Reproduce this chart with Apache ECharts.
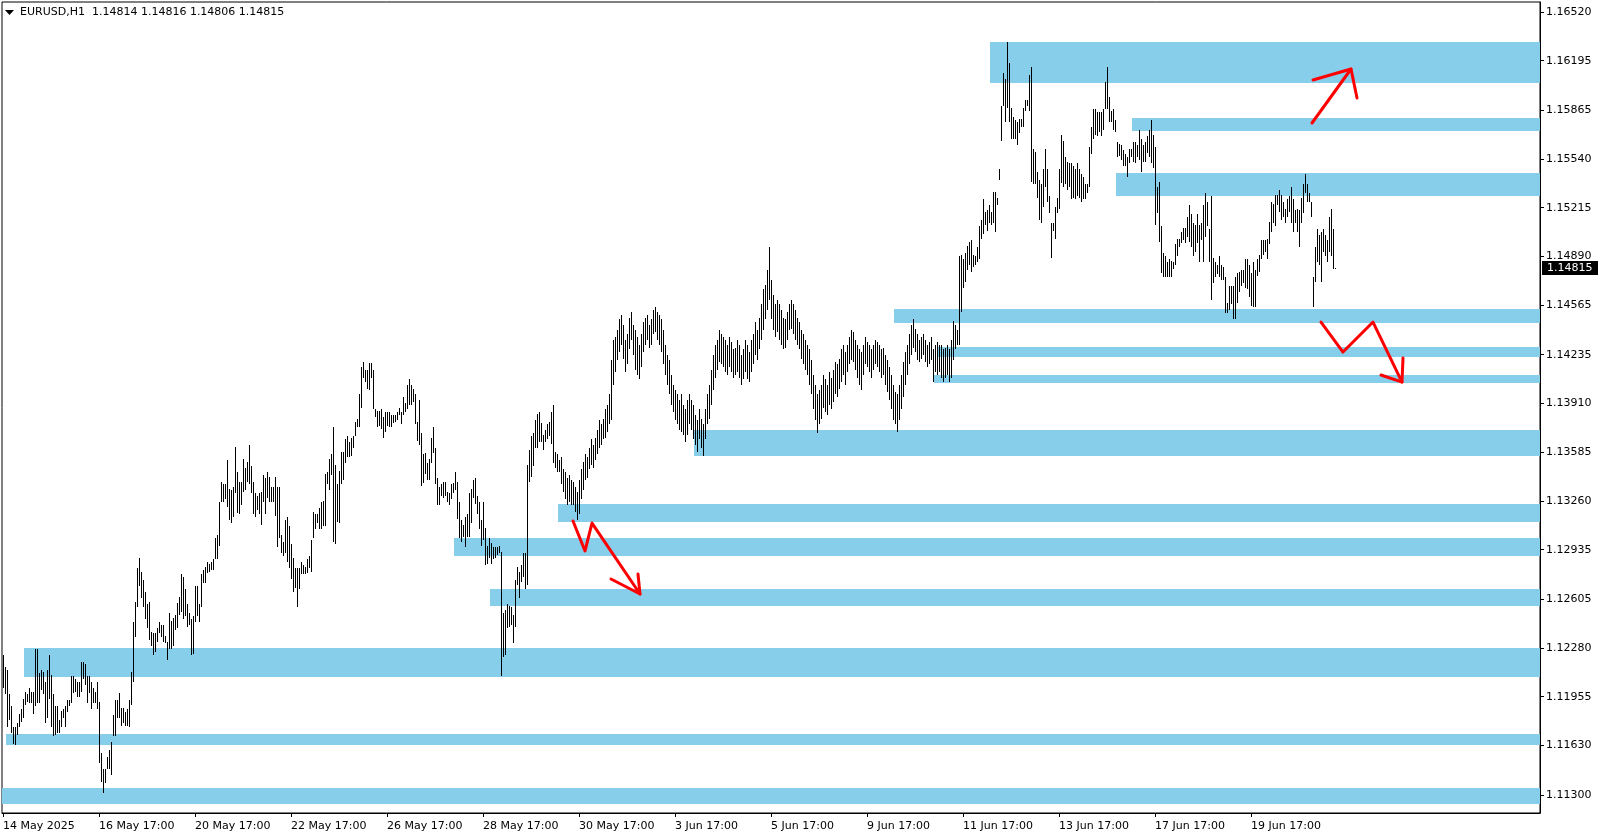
<!DOCTYPE html>
<html><head><meta charset="utf-8">
<script src="https://cdn.jsdelivr.net/npm/echarts@6/dist/echarts.min.js"></script>
<style>html,body{margin:0;padding:0;background:#fff}#c{width:1604px;height:838px}</style>
</head><body><div id="c"></div>
<script>
const symbolName = 'EURUSD,H1';
const headerOHLC = [1.14814, 1.14816, 1.14806, 1.14815];
const lastPrice = 1.14815;
const yTickValues = [1.11300,1.11630,1.11955,1.12280,1.12605,1.12935,1.13260,1.13585,1.13910,1.14235,1.14565,1.14890,1.15215,1.15540,1.15865,1.16195,1.16520];
const firstBarTime = [2025, 4, 14, 17];
const slotCount = 769;

const highs = [
1.1223,1.1215,1.1213,1.1197,1.1189,1.1175,1.1175,1.1178,1.1184,1.1187,
1.1194,1.1199,1.1197,1.1201,1.1199,1.1199,1.1227,1.1227,1.1211,1.1213,
1.1212,1.1205,1.1213,1.1223,1.1210,1.1197,1.1189,1.1189,1.1180,1.1186,
1.1187,1.1189,1.1193,1.1193,1.1209,1.1209,1.1207,1.1205,1.1205,1.1219,
1.1219,1.1217,1.1209,1.1209,1.1205,1.1201,1.1199,1.1205,1.1192,1.1158,
1.1147,1.1147,1.1155,1.1160,1.1165,1.1183,1.1193,1.1193,1.1198,1.1188,
1.1188,1.1185,1.1187,1.1193,1.1212,1.1245,1.1259,1.1281,1.1288,1.1279,
1.1273,1.1265,1.1257,1.1259,1.1239,1.1238,1.1238,1.1241,1.1245,1.1243,
1.1243,1.1236,1.1232,1.1251,1.1246,1.1248,1.1250,1.1258,1.1262,1.1277,
1.1275,1.1267,1.1257,1.1251,1.1247,1.1249,1.1269,1.1269,1.1257,1.1277,
1.1280,1.1282,1.1285,1.1284,1.1285,1.1287,1.1301,1.1303,1.1325,1.1339,
1.1337,1.1337,1.1353,1.1334,1.1333,1.1335,1.1362,1.1345,1.1339,1.1339,
1.1354,1.1348,1.1352,1.1363,1.1349,1.1339,1.1331,1.1329,1.1331,1.1332,
1.1343,1.1341,1.1345,1.1342,1.1335,1.1335,1.1342,1.1335,1.1335,1.1303,
1.1299,1.1313,1.1315,1.1309,1.1297,1.1288,1.1281,1.1281,1.1281,1.1285,
1.1283,1.1282,1.1287,1.1289,1.1300,1.1319,1.1317,1.1317,1.1321,1.1325,
1.1326,1.1344,1.1345,1.1354,1.1357,1.1375,1.1350,1.1337,1.1346,1.1359,
1.1359,1.1367,1.1369,1.1365,1.1368,1.1369,1.1379,1.1381,1.1397,1.1415,
1.1419,1.1413,1.1413,1.1418,1.1418,1.1413,1.1387,1.1386,1.1386,1.1387,
1.1382,1.1385,1.1385,1.1385,1.1383,1.1383,1.1383,1.1385,1.1388,1.1385,
1.1395,1.1391,1.1403,1.1407,1.1403,1.1401,1.1397,1.1379,1.1393,1.1371,
1.1357,1.1358,1.1351,1.1354,1.1368,1.1375,1.1361,1.1341,1.1335,1.1337,
1.1339,1.1339,1.1332,1.1331,1.1337,1.1338,1.1345,1.1339,1.1325,1.1313,
1.1310,1.1315,1.1317,1.1331,1.1334,1.1340,1.1341,1.1329,1.1325,1.1313,
1.1325,1.1308,1.1296,1.1301,1.1298,1.1295,1.1295,1.1295,1.1296,1.1292,
1.1251,1.1253,1.1257,1.1256,1.1255,1.1250,1.1273,1.1282,1.1279,1.1283,
1.1291,1.1291,1.1350,1.1360,1.1369,1.1371,1.1380,1.1384,1.1385,1.1378,
1.1370,1.1373,1.1377,1.1379,1.1385,1.1390,1.1359,1.1357,1.1353,1.1355,
1.1347,1.1345,1.1341,1.1343,1.1340,1.1339,1.1335,1.1332,1.1340,1.1347,
1.1352,1.1357,1.1355,1.1361,1.1367,1.1363,1.1368,1.1373,1.1380,1.1377,
1.1381,1.1387,1.1390,1.1397,1.1420,1.1433,1.1435,1.1440,1.1447,1.1450,
1.1443,1.1433,1.1437,1.1448,1.1452,1.1443,1.1440,1.1435,1.1430,1.1437,
1.1445,1.1448,1.1450,1.1443,1.1447,1.1453,1.1455,1.1452,1.1450,1.1447,
1.1440,1.1430,1.1423,1.1420,1.1410,1.1403,1.1400,1.1397,1.1393,1.1397,
1.1390,1.1387,1.1393,1.1397,1.1393,1.1390,1.1383,1.1380,1.1387,1.1381,
1.1377,1.1387,1.1397,1.1403,1.1413,1.1423,1.1430,1.1433,1.1440,1.1437,
1.1435,1.1433,1.1430,1.1435,1.1432,1.1427,1.1428,1.1433,1.1430,1.1423,
1.1427,1.1433,1.1430,1.1425,1.1433,1.1437,1.1445,1.1440,1.1448,1.1457,
1.1467,1.1470,1.1480,1.1495,1.1473,1.1463,1.1457,1.1460,1.1457,1.1453,
1.1448,1.1447,1.1452,1.1457,1.1460,1.1457,1.1453,1.1448,1.1445,1.1440,
1.1437,1.1433,1.1430,1.1427,1.1420,1.1410,1.1403,1.1397,1.1400,1.1403,
1.1410,1.1407,1.1403,1.1412,1.1408,1.1413,1.1419,1.1417,1.1421,1.1427,
1.1430,1.1425,1.1430,1.1435,1.1440,1.1439,1.1433,1.1430,1.1427,1.1425,
1.1430,1.1435,1.1432,1.1430,1.1427,1.1430,1.1433,1.1432,1.1430,1.1427,
1.1428,1.1423,1.1420,1.1415,1.1410,1.1403,1.1399,1.1397,1.1403,1.1410,
1.1419,1.1425,1.1430,1.1437,1.1443,1.1447,1.1441,1.1437,1.1433,1.1435,
1.1437,1.1433,1.1430,1.1432,1.1435,1.1427,1.1430,1.1432,1.1430,1.1430,
1.1427,1.1428,1.1430,1.1427,1.1433,1.1446,1.1443,1.1440,1.1489,1.1490,
1.1487,1.1491,1.1496,1.1499,1.1500,1.1490,1.1489,1.1495,1.1509,1.1513,
1.1527,1.1519,1.1520,1.1523,1.1519,1.1532,1.1532,1.1528,1.1547,1.1589,
1.1611,1.1607,1.1632,1.1618,1.1588,1.1582,1.1580,1.1579,1.1581,1.1581,
1.1588,1.1593,1.1593,1.1610,1.1615,1.1561,1.1559,1.1545,1.1540,1.1537,
1.1547,1.1561,1.1547,1.1529,1.1511,1.1511,1.1522,1.1528,1.1547,1.1570,
1.1566,1.1555,1.1552,1.1551,1.1551,1.1549,1.1547,1.1551,1.1547,1.1544,
1.1542,1.1537,1.1537,1.1562,1.1575,1.1587,1.1587,1.1585,1.1585,1.1585,
1.1587,1.1605,1.1615,1.1595,1.1586,1.1587,1.1580,1.1565,1.1564,1.1563,
1.1560,1.1557,1.1555,1.1561,1.1561,1.1565,1.1565,1.1563,1.1573,1.1567,
1.1563,1.1565,1.1569,1.1573,1.1580,1.1570,1.1562,1.1535,1.1539,1.1509,
1.1491,1.1489,1.1485,1.1487,1.1486,1.1485,1.1497,1.1501,1.1501,1.1505,
1.1508,1.1508,1.1515,1.1523,1.1517,1.1511,1.1510,1.1517,1.1510,1.1511,
1.1523,1.1531,1.1525,1.1507,1.1529,1.1488,1.1485,1.1483,1.1489,1.1483,
1.1482,1.1475,1.1458,1.1469,1.1469,1.1469,1.1475,1.1478,1.1479,1.1480,
1.1480,1.1487,1.1487,1.1483,1.1478,1.1485,1.1480,1.1487,1.1490,1.1500,
1.1500,1.1500,1.1501,1.1512,1.1525,1.1524,1.1530,1.1530,1.1533,1.1530,
1.1525,1.1521,1.1527,1.1529,1.1535,1.1527,1.1520,1.1521,1.1520,1.1528,
1.1537,1.1544,1.1537,1.1531,1.1525,1.1475,1.1495,1.1507,1.1503,1.1505,
1.1507,1.1503,1.1500,1.1515,1.1521,1.1507,1.14816
];

const lows = [
1.1201,1.1197,1.1175,1.1180,1.1171,1.1164,1.1163,1.1170,1.1175,1.1179,
1.1181,1.1190,1.1192,1.1191,1.1191,1.1184,1.1189,1.1191,1.1191,1.1200,
1.1197,1.1178,1.1181,1.1194,1.1175,1.1169,1.1170,1.1171,1.1171,1.1175,
1.1181,1.1175,1.1185,1.1189,1.1191,1.1198,1.1199,1.1195,1.1195,1.1199,
1.1207,1.1203,1.1191,1.1198,1.1187,1.1191,1.1191,1.1187,1.1151,1.1139,
1.1131,1.1138,1.1147,1.1147,1.1143,1.1169,1.1169,1.1181,1.1181,1.1176,
1.1178,1.1176,1.1176,1.1175,1.1190,1.1205,1.1235,1.1255,1.1269,1.1261,
1.1255,1.1247,1.1241,1.1233,1.1229,1.1223,1.1225,1.1232,1.1238,1.1235,
1.1232,1.1231,1.1220,1.1227,1.1227,1.1229,1.1240,1.1241,1.1250,1.1252,
1.1247,1.1249,1.1242,1.1243,1.1223,1.1224,1.1245,1.1249,1.1245,1.1255,
1.1271,1.1271,1.1278,1.1279,1.1280,1.1280,1.1287,1.1287,1.1296,1.1325,
1.1325,1.1327,1.1322,1.1313,1.1311,1.1315,1.1331,1.1318,1.1317,1.1323,
1.1332,1.1333,1.1339,1.1337,1.1331,1.1317,1.1315,1.1320,1.1317,1.1310,
1.1325,1.1317,1.1328,1.1325,1.1325,1.1325,1.1316,1.1295,1.1301,1.1291,
1.1289,1.1291,1.1285,1.1281,1.1274,1.1265,1.1268,1.1255,1.1267,1.1277,
1.1277,1.1277,1.1278,1.1281,1.1279,1.1301,1.1307,1.1311,1.1307,1.1307,
1.1309,1.1309,1.1337,1.1333,1.1343,1.1299,1.1297,1.1312,1.1311,1.1337,
1.1340,1.1351,1.1355,1.1355,1.1356,1.1361,1.1369,1.1375,1.1375,1.1388,
1.1408,1.1405,1.1401,1.1400,1.1408,1.1387,1.1382,1.1375,1.1376,1.1374,
1.1368,1.1372,1.1376,1.1375,1.1375,1.1378,1.1379,1.1380,1.1383,1.1377,
1.1383,1.1385,1.1387,1.1390,1.1390,1.1392,1.1377,1.1366,1.1363,1.1336,
1.1338,1.1344,1.1340,1.1340,1.1351,1.1358,1.1337,1.1323,1.1323,1.1329,
1.1328,1.1329,1.1325,1.1323,1.1327,1.1331,1.1333,1.1314,1.1301,1.1299,
1.1302,1.1295,1.1302,1.1302,1.1311,1.1328,1.1324,1.1317,1.1307,1.1296,
1.1300,1.1283,1.1284,1.1288,1.1284,1.1287,1.1288,1.1290,1.1291,1.1209,
1.1222,1.1223,1.1241,1.1242,1.1243,1.1231,1.1242,1.1270,1.1261,1.1272,
1.1275,1.1267,1.1270,1.1339,1.1342,1.1349,1.1361,1.1361,1.1365,1.1365,
1.1360,1.1365,1.1367,1.1369,1.1364,1.1351,1.1348,1.1345,1.1345,1.1337,
1.1332,1.1327,1.1323,1.1325,1.1323,1.1323,1.1319,1.1313,1.1317,1.1327,
1.1333,1.1340,1.1341,1.1347,1.1350,1.1348,1.1353,1.1357,1.1361,1.1363,
1.1367,1.1368,1.1372,1.1377,1.1380,1.1403,1.1412,1.1420,1.1425,1.1430,
1.1421,1.1412,1.1417,1.1427,1.1433,1.1423,1.1413,1.1410,1.1407,1.1415,
1.1425,1.1430,1.1433,1.1428,1.1430,1.1437,1.1439,1.1433,1.1430,1.1425,
1.1417,1.1410,1.1403,1.1397,1.1390,1.1385,1.1380,1.1377,1.1373,1.1372,
1.1370,1.1365,1.1370,1.1377,1.1373,1.1367,1.1363,1.1359,1.1367,1.1361,
1.1356,1.1367,1.1377,1.1381,1.1390,1.1400,1.1408,1.1413,1.1419,1.1417,
1.1415,1.1412,1.1410,1.1415,1.1412,1.1408,1.1410,1.1412,1.1408,1.1403,
1.1407,1.1412,1.1407,1.1405,1.1412,1.1417,1.1423,1.1420,1.1427,1.1433,
1.1440,1.1447,1.1453,1.1460,1.1447,1.1440,1.1435,1.1439,1.1433,1.1430,
1.1427,1.1428,1.1433,1.1440,1.1441,1.1437,1.1433,1.1430,1.1427,1.1421,
1.1417,1.1413,1.1410,1.1403,1.1397,1.1387,1.1380,1.1371,1.1377,1.1381,
1.1388,1.1385,1.1383,1.1390,1.1387,1.1392,1.1397,1.1395,1.1401,1.1405,
1.1410,1.1403,1.1412,1.1417,1.1420,1.1419,1.1413,1.1408,1.1403,1.1400,
1.1410,1.1417,1.1415,1.1412,1.1408,1.1413,1.1417,1.1415,1.1412,1.1408,
1.1410,1.1403,1.1399,1.1393,1.1387,1.1380,1.1377,1.1372,1.1380,1.1387,
1.1395,1.1403,1.1410,1.1417,1.1423,1.1428,1.1425,1.1420,1.1419,1.1421,
1.1423,1.1419,1.1415,1.1417,1.1420,1.1405,1.1412,1.1410,1.1412,1.1408,
1.1405,1.1408,1.1410,1.1405,1.1408,1.1420,1.1427,1.1430,1.1430,1.1452,
1.1468,1.1472,1.1480,1.1483,1.1479,1.1482,1.1483,1.1485,1.1487,1.1501,
1.1504,1.1510,1.1506,1.1511,1.1510,1.1511,1.1505,1.1523,1.1540,1.1566,
1.1589,1.1579,1.1588,1.1579,1.1567,1.1567,1.1567,1.1563,1.1571,1.1575,
1.1575,1.1586,1.1589,1.1586,1.1539,1.1537,1.1537,1.1528,1.1513,1.1511,
1.1522,1.1535,1.1525,1.1518,1.1488,1.1506,1.1501,1.1518,1.1521,1.1538,
1.1535,1.1537,1.1533,1.1535,1.1527,1.1528,1.1527,1.1529,1.1528,1.1525,
1.1527,1.1527,1.1531,1.1535,1.1557,1.1567,1.1570,1.1569,1.1572,1.1569,
1.1573,1.1587,1.1587,1.1579,1.1579,1.1573,1.1572,1.1555,1.1556,1.1553,
1.1549,1.1549,1.1542,1.1551,1.1555,1.1552,1.1551,1.1555,1.1553,1.1545,
1.1552,1.1552,1.1558,1.1555,1.1551,1.1548,1.1510,1.1518,1.1499,1.1478,
1.1475,1.1475,1.1475,1.1475,1.1475,1.1481,1.1483,1.1489,1.1495,1.1498,
1.1500,1.1498,1.1502,1.1499,1.1495,1.1489,1.1492,1.1498,1.1485,1.1500,
1.1485,1.1502,1.1509,1.1485,1.1460,1.1471,1.1475,1.1477,1.1475,1.1473,
1.1473,1.1451,1.1451,1.1453,1.1457,1.1447,1.1447,1.1458,1.1465,1.1469,
1.1471,1.1468,1.1467,1.1462,1.1456,1.1455,1.1455,1.1476,1.1479,1.1487,
1.1490,1.1492,1.1487,1.1497,1.1505,1.1511,1.1509,1.1523,1.1519,1.1513,
1.1515,1.1511,1.1515,1.1519,1.1511,1.1505,1.1511,1.1505,1.1495,1.1511,
1.1518,1.1531,1.1525,1.1525,1.1515,1.1455,1.1472,1.1485,1.1483,1.1472,
1.1492,1.1489,1.1485,1.1492,1.1489,1.1481,1.14806
];

// zones: [first bar index, lower price, upper price]
const zoneStarts = [494, 565, 557, 446, 468, 466, 346, 278, 226, 244, 11, 2, 0];
const zoneLows   = [1.16049,1.15729,1.15295,1.14447,1.14220,1.14047,1.13560,1.13120,1.12893,1.12560,1.12087,1.11633,1.11240];
const zoneHighs  = [1.16320,1.15813,1.15447,1.14540,1.14287,1.14100,1.13733,1.13240,1.13013,1.12673,1.12280,1.11707,1.11347];

// hand-drawn arrows: polylines in (bar index, price)
const arrowLines = [
  [[654.5,1.1578],[674,1.1614]],
  [[655,1.16067],[674,1.1614],[677,1.15947]],
  [[285,1.13127],[291,1.12927],[294.5,1.13113],[318.5,1.12640]],
  [[304,1.12740],[318.5,1.12640],[317.5,1.12773]],
  [[659,1.14453],[670,1.14253],[685,1.14453],[699.5,1.14053]],
  [[689,1.14100],[699.5,1.14053],[700,1.14213]]
];

const MONTHS = ['Jan','Feb','Mar','Apr','May','Jun','Jul','Aug','Sep','Oct','Nov','Dec'];
const categories = [];
(function(){
  let t = Date.UTC(firstBarTime[0], firstBarTime[1], firstBarTime[2], firstBarTime[3]);
  while (categories.length < slotCount) {
    const d = new Date(t);
    const wd = d.getUTCDay();
    if (wd !== 0 && wd !== 6) {
      const hh = String(d.getUTCHours()).padStart(2,'0');
      categories.push(d.getUTCDate() + ' ' + MONTHS[d.getUTCMonth()] + ' ' + hh + ':00|' + d.getUTCFullYear());
    }
    t += 3600000;
  }
})();

const nBars = Math.min(highs.length, lows.length);
const barData = [];
for (let i = 0; i < nBars; i++) barData.push([i, lows[i], highs[i]]);
const zoneData = zoneStarts.map((s, k) => [s, zoneLows[k], zoneHighs[k]]);

const FONT = 'DejaVu Sans';
const GRID = {left: 2, right: 64, top: 2, bottom: 25};
const yMin = 1.11180, yMax = 1.11180 + 811 / 15000;

const showLabel = (idx) => idx % 48 === 0 && idx < nBars;

const chart = echarts.init(document.getElementById('c'), null, {renderer: 'canvas'});
chart.setOption({
  animation: false,
  backgroundColor: '#ffffff',
  grid: Object.assign({show: true, borderColor: '#000', borderWidth: 1, backgroundColor: 'transparent'}, GRID),
  xAxis: {
    type: 'category', data: categories, boundaryGap: true,
    axisLine: {show: true, lineStyle: {color: '#000', width: 1}},
    axisTick: {show: true, alignWithLabel: true, interval: (i) => showLabel(i), length: 4, lineStyle: {color: '#000'}},
    axisLabel: {
      interval: (i) => showLabel(i), align: 'left', margin: 8,
      fontFamily: FONT, fontSize: 11, color: '#000',
      formatter: (v, i) => { const parts = v.split('|'); if (i === 0) { const p = parts[0].split(' '); return p[0] + ' ' + p[1] + ' ' + parts[1]; } return parts[0]; }
    },
    splitLine: {show: false}
  },
  yAxis: {
    type: 'value', position: 'right', min: yMin, max: yMax, scale: true,
    axisLine: {show: true, lineStyle: {color: '#000', width: 1}},
    axisTick: {show: true, customValues: yTickValues, length: 4, lineStyle: {color: '#000'}},
    axisLabel: {customValues: yTickValues, margin: 6, fontFamily: FONT, fontSize: 11, color: '#000', formatter: (v) => v.toFixed(5)},
    splitLine: {show: false}
  },
  series: [
    {
      type: 'custom', name: 'zones', z: 1, silent: true,
      encode: {x: 0, y: [1, 2]},
      data: zoneData,
      renderItem: function (params, api) {
        const s = api.value(0);
        const band = api.size([1, 0])[0];
        const a = api.coord([s, api.value(2)]);
        const b = api.coord([s, api.value(1)]);
        const cs = params.coordSys;
        const x0 = Math.max(cs.x, Math.round(a[0] - band / 2));
        const x1 = cs.x + cs.width;
        const y0 = Math.round(a[1]), y1 = Math.round(b[1]);
        return {type: 'rect', shape: {x: x0, y: y0, width: x1 - x0, height: y1 - y0}, style: {fill: '#87CEEB'}};
      }
    },
    {
      type: 'custom', name: 'EURUSD', z: 2, silent: true,
      encode: {x: 0, y: [1, 2]},
      data: barData,
      renderItem: function (params, api) {
        const i = api.value(0);
        const lo = api.coord([i, api.value(1)]);
        const hi = api.coord([i, api.value(2)]);
        const x = Math.floor(lo[0]) + 0.5;
        let y1 = Math.round(hi[1]), y2 = Math.round(lo[1]);
        if (y2 - y1 < 1) y2 = y1 + 1;
        return {type: 'line', shape: {x1: x, y1: y1, x2: x, y2: y2}, style: {stroke: '#000', lineWidth: 1}};
      }
    },
    {
      type: 'custom', name: 'arrows', z: 3, silent: true,
      encode: {x: 0, y: 1},
      data: arrowLines.map(l => [Math.round(l[0][0]), l[0][1]]),
      renderItem: function (params, api) {
        const band = api.size([1, 0])[0];
        const pts = arrowLines[params.dataIndex].map(function (pt) {
          const fi = Math.floor(pt[0]);
          const c = api.coord([fi, pt[1]]);
          return [c[0] + (pt[0] - fi) * band, c[1]];
        });
        return {type: 'polyline', shape: {points: pts}, style: {stroke: '#ff0000', lineWidth: 3, fill: null, lineJoin: 'round', lineCap: 'round'}};
      }
    }
  ]
});

const yPix = chart.convertToPixel({yAxisIndex: 0}, lastPrice);
chart.setOption({
  graphic: [
    {type: 'polygon', shape: {points: [[5, 10], [14, 10], [9.5, 15]]}, style: {fill: '#000'}},
    {type: 'text', left: 20, top: 7, style: {text: symbolName + '  ' + headerOHLC.map(v => v.toFixed(5)).join(' '), font: '11px "' + FONT + '"', fill: '#000'}},
    {type: 'rect', shape: {x: 1542, y: Math.round(yPix) - 7, width: 56, height: 14}, style: {fill: '#000'}, z: 10},
    {type: 'text', x: 1547, y: Math.round(yPix), style: {text: lastPrice.toFixed(5), font: '11px "' + FONT + '"', fill: '#fff', verticalAlign: 'middle'}, z: 11}
  ]
});
</script>
</body></html>
